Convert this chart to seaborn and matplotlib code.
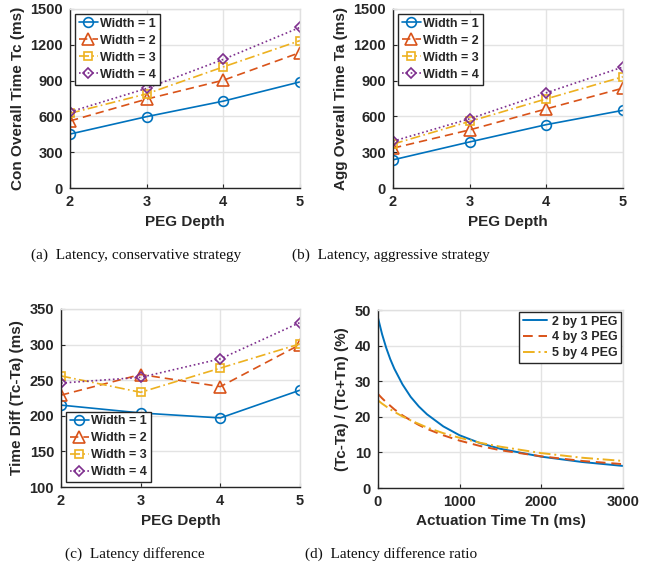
import numpy as np
import pandas as pd
import matplotlib
matplotlib.use("Agg")
import matplotlib.pyplot as plt
import seaborn as sns

sns.set_theme(style="whitegrid")
plt.rcParams['font.family'] = ['Liberation Sans', 'DejaVu Sans']

# ---------------- data ----------------
depth = [2, 3, 4, 5]
widths = ["Width = 1", "Width = 2", "Width = 3", "Width = 4"]

con_w1 = [452, 598, 728, 889]
con_w2 = [562, 745, 903, 1135]
con_w3 = [626, 789, 1015, 1235]
con_w4 = [638, 835, 1078, 1346]

agg_w1 = [236, 386, 531, 651]
agg_w2 = [334, 487, 663, 837]
agg_w3 = [368, 558, 747, 932]
agg_w4 = [392, 580, 798, 1014]

diff_w1 = [215, 204, 197, 236]
diff_w2 = [229, 258, 241, 300]
diff_w3 = [256, 233, 267, 301]
diff_w4 = [246, 254, 280, 331]

tn = [0, 50, 100, 150, 200, 300, 400, 500, 600, 800, 1000, 1250, 1500, 2000, 2500, 3000]
ratio_2by1 = [47.8, 43.2, 39.4, 36.2, 33.5, 29.1, 25.6, 22.9, 20.7, 17.3, 14.8, 12.6, 11.0, 8.8, 7.3, 6.2]
ratio_4by3 = [26.4, 25.2, 24.1, 23.1, 22.1, 20.4, 19.0, 17.7, 16.6, 14.8, 13.3, 11.8, 10.6, 8.9, 7.6, 6.7]
ratio_5by4 = [24.6, 23.7, 22.9, 22.1, 21.4, 20.1, 19.0, 18.0, 17.0, 15.4, 14.1, 12.7, 11.6, 9.8, 8.5, 7.6]
ratio_labels = ["2 by 1 PEG", "4 by 3 PEG", "5 by 4 PEG"]

# ---------------- styles ----------------
colors = ["#0072BD", "#D95319", "#EDB120", "#7E2F8E"]
lstyles = ["-", (0, (5, 3)), (0, (6, 2, 1, 2)), (0, (1, 1.6))]
markers = ["o", "^", "s", "D"]
msizes = [7, 8, 6, 5.5]

fig = plt.figure(figsize=(6.6, 5.69), dpi=100)
W, H = 660, 569

def add_ax(l, r, t, b):
    return fig.add_axes([l / W, 1 - b / H, (r - l) / W, (b - t) / H])

ax_a = add_ax(70, 300, 9, 188)
ax_b = add_ax(393, 623, 9, 188)
ax_c = add_ax(61, 300, 309, 487)
ax_d = add_ax(378, 623, 310, 488)

def style_ax(ax):
    ax.set_facecolor("white")
    ax.grid(True, color="#e3e3e3", linewidth=1.0)
    for s in ["left", "bottom"]:
        ax.spines[s].set_color("#262626")
        ax.spines[s].set_linewidth(1.0)
    for s in ["top", "right"]:
        ax.spines[s].set_color("#e0e0e0")
        ax.spines[s].set_linewidth(1.0)
    ax.tick_params(direction="in", length=3, width=0.8, colors="#262626",
                   labelsize=10.5, pad=5, top=False, right=False, bottom=True, left=True)
    for lab in ax.get_xticklabels() + ax.get_yticklabels():
        lab.set_fontweight("bold")

def fmt_legend(leg):
    leg.get_frame().set_edgecolor("#262626")
    leg.get_frame().set_linewidth(1.0)
    leg.get_frame().set_alpha(1)
    for t in leg.get_texts():
        t.set_fontweight("bold")

def depth_panel(ax, series, ylabel, ylim, yticks, legloc):
    for i, vals in enumerate(series):
        sns.lineplot(x=depth, y=vals, ax=ax, color=colors[i], linestyle=lstyles[i],
                     marker=markers[i], markersize=msizes[i], markerfacecolor="none",
                     markeredgecolor=colors[i], markeredgewidth=1.2, linewidth=1.2,
                     label=widths[i])
    ax.set_xlim(2, 5)
    ax.set_ylim(*ylim)
    ax.set_xticks(depth)
    ax.set_yticks(yticks)
    ax.set_xlabel("PEG Depth", fontsize=11, fontweight="bold", labelpad=4)
    ax.set_ylabel(ylabel, fontsize=11, fontweight="bold", labelpad=4)
    style_ax(ax)
    leg = ax.legend(loc=legloc, fontsize=9, frameon=True, fancybox=False,
                    handlelength=1.5, handletextpad=0.2, borderpad=0.3,
                    labelspacing=0.4, borderaxespad=0.4)
    fmt_legend(leg)

depth_panel(ax_a, [con_w1, con_w2, con_w3, con_w4], "Con Overall Time Tc (ms)",
            (0, 1500), [0, 300, 600, 900, 1200, 1500], "upper left")
depth_panel(ax_b, [agg_w1, agg_w2, agg_w3, agg_w4], "Agg Overall Time Ta (ms)",
            (0, 1500), [0, 300, 600, 900, 1200, 1500], "upper left")
depth_panel(ax_c, [diff_w1, diff_w2, diff_w3, diff_w4], "Time Diff (Tc-Ta) (ms)",
            (100, 350), [100, 150, 200, 250, 300, 350], "lower left")

# panel d
for i, vals in enumerate([ratio_2by1, ratio_4by3, ratio_5by4]):
    sns.lineplot(x=tn, y=vals, ax=ax_d, color=colors[i], linestyle=lstyles[i],
                 linewidth=1.4, label=ratio_labels[i])
ax_d.set_xlim(0, 3000)
ax_d.set_ylim(0, 50)
ax_d.set_xticks([0, 1000, 2000, 3000])
ax_d.set_yticks([0, 10, 20, 30, 40, 50])
ax_d.set_xlabel("Actuation Time Tn (ms)", fontsize=11, fontweight="bold", labelpad=4)
ax_d.set_ylabel("(Tc-Ta) / (Tc+Tn) (%)", fontsize=11, fontweight="bold", labelpad=4)
style_ax(ax_d)
leg = ax_d.legend(loc="upper right", fontsize=9, frameon=True, fancybox=False,
                  handlelength=1.9, handletextpad=0.4, borderpad=0.3,
                  labelspacing=0.3, borderaxespad=0.15)
fmt_legend(leg)

# captions
cap_kw = dict(fontsize=11, family=["Liberation Serif", "DejaVu Serif"],
              ha="center", va="center", color="#111111")
fig.text(136 / W, 1 - 255 / H, "(a)  Latency, conservative strategy", **cap_kw)
fig.text(391 / W, 1 - 255 / H, "(b)  Latency, aggressive strategy", **cap_kw)
fig.text(135 / W, 1 - 554 / H, "(c)  Latency difference", **cap_kw)
fig.text(391 / W, 1 - 554 / H, "(d)  Latency difference ratio", **cap_kw)

fig.savefig("out.png", dpi=100, facecolor="white")
